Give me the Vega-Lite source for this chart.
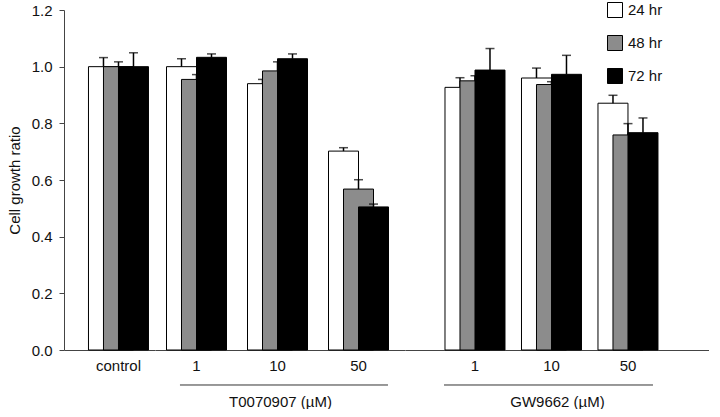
{
  "$schema": "https://vega.github.io/schema/vega-lite/v6.json",
  "padding": {"left": 7, "top": 2, "right": 0, "bottom": 0},
  "bounds": "flush",
  "spacing": 0,
  "config": {
    "view": {"stroke": null},
    "font": "Liberation Sans",
    "axis": {"domainColor": "#444", "tickColor": "#444", "labelColor": "#111", "titleColor": "#111", "labelFont": "Liberation Sans", "titleFont": "Liberation Sans", "labelFontSize": 15, "titleFontWeight": "normal", "grid": false},
    "legend": {"padding": 0, "labelFontSize": 15, "labelColor": "#111", "labelFont": "Liberation Sans", "symbolType": "square", "symbolSize": 225, "symbolStrokeColor": "black", "symbolStrokeWidth": 1, "rowPadding": 13, "labelOffset": 5, "title": null}
  },
  "data": {"values": [
    {"panel": "control", "dose": "control", "time": "24 hr", "value": 1.000, "upper": 1.032},
    {"panel": "control", "dose": "control", "time": "48 hr", "value": 1.000, "upper": 1.017},
    {"panel": "control", "dose": "control", "time": "72 hr", "value": 1.000, "upper": 1.049},
    {"panel": "T", "dose": "1", "time": "24 hr", "value": 1.000, "upper": 1.028},
    {"panel": "T", "dose": "1", "time": "48 hr", "value": 0.955, "upper": 0.972},
    {"panel": "T", "dose": "1", "time": "72 hr", "value": 1.033, "upper": 1.045},
    {"panel": "T", "dose": "10", "time": "24 hr", "value": 0.940, "upper": 0.955},
    {"panel": "T", "dose": "10", "time": "48 hr", "value": 0.985, "upper": 1.017},
    {"panel": "T", "dose": "10", "time": "72 hr", "value": 1.028, "upper": 1.045},
    {"panel": "T", "dose": "50", "time": "24 hr", "value": 0.702, "upper": 0.714},
    {"panel": "T", "dose": "50", "time": "48 hr", "value": 0.568, "upper": 0.601},
    {"panel": "T", "dose": "50", "time": "72 hr", "value": 0.505, "upper": 0.515},
    {"panel": "GW", "dose": "1", "time": "24 hr", "value": 0.927, "upper": 0.961},
    {"panel": "GW", "dose": "1", "time": "48 hr", "value": 0.950, "upper": 0.968},
    {"panel": "GW", "dose": "1", "time": "72 hr", "value": 0.988, "upper": 1.064},
    {"panel": "GW", "dose": "10", "time": "24 hr", "value": 0.960, "upper": 0.995},
    {"panel": "GW", "dose": "10", "time": "48 hr", "value": 0.937, "upper": 0.947},
    {"panel": "GW", "dose": "10", "time": "72 hr", "value": 0.973, "upper": 1.040},
    {"panel": "GW", "dose": "50", "time": "24 hr", "value": 0.871, "upper": 0.899},
    {"panel": "GW", "dose": "50", "time": "48 hr", "value": 0.759, "upper": 0.799},
    {"panel": "GW", "dose": "50", "time": "72 hr", "value": 0.767, "upper": 0.819}
  ]},
  "hconcat": [
    {
      "width": 91, "height": 340,
      "transform": [{"filter": "datum.panel == 'control'"}],
      "encoding": {
        "x": {"field": "dose", "type": "nominal", "sort": null, "title": null,
              "scale": {"domain": ["control"], "paddingInner": 0, "paddingOuter": 0.123, "align": 1},
              "axis": {"ticks": false, "tickSize": 0, "labelPadding": 8, "labelAngle": 0, "title": null}},
        "y": {"field": "value", "type": "quantitative", "title": "Cell growth ratio",
              "scale": {"domain": [0, 1.2], "nice": false, "zero": true},
              "axis": {"values": [0, 0.2, 0.4, 0.6, 0.8, 1.0, 1.2], "format": ".1f", "tickSize": 5, "labelPadding": 7, "titlePadding": 9, "titleFontSize": 15}}
      },
      "layer": [
        {"transform": [{"filter": "datum.time == '24 hr'"}], "layer": [
          {"mark": {"type": "bar", "width": 30, "xOffset": -15, "stroke": "black", "strokeWidth": 1},
           "encoding": {"color": {"field": "time", "type": "nominal", "scale": {"domain": ["24 hr", "48 hr", "72 hr"], "range": ["#ffffff", "#8c8c8c", "#000000"]}, "legend": {"orient": "none", "legendX": 543, "legendY": -8}}, "opacity": {"value": 1}}},
          {"mark": {"type": "rule", "xOffset": -15, "strokeWidth": 1.5, "color": "black"}, "encoding": {"y2": {"field": "upper"}}},
          {"mark": {"type": "tick", "xOffset": -15, "size": 9, "thickness": 1.5, "color": "black", "orient": "horizontal"}, "encoding": {"y": {"field": "upper", "type": "quantitative", "title": "Cell growth ratio"}}}
        ]},
        {"transform": [{"filter": "datum.time == '48 hr'"}], "layer": [
          {"mark": {"type": "bar", "width": 30, "xOffset": 0, "stroke": "black", "strokeWidth": 1},
           "encoding": {"color": {"field": "time", "type": "nominal", "scale": {"domain": ["24 hr", "48 hr", "72 hr"], "range": ["#ffffff", "#8c8c8c", "#000000"]}}}},
          {"mark": {"type": "rule", "xOffset": 0, "strokeWidth": 1.5, "color": "black"}, "encoding": {"y2": {"field": "upper"}}},
          {"mark": {"type": "tick", "xOffset": 0, "size": 9, "thickness": 1.5, "color": "black", "orient": "horizontal"}, "encoding": {"y": {"field": "upper", "type": "quantitative", "title": "Cell growth ratio"}}}
        ]},
        {"transform": [{"filter": "datum.time == '72 hr'"}], "layer": [
          {"mark": {"type": "bar", "width": 30, "xOffset": 15, "stroke": "black", "strokeWidth": 1},
           "encoding": {"color": {"field": "time", "type": "nominal", "scale": {"domain": ["24 hr", "48 hr", "72 hr"], "range": ["#ffffff", "#8c8c8c", "#000000"]}}}},
          {"mark": {"type": "rule", "xOffset": 15, "strokeWidth": 1.5, "color": "black"}, "encoding": {"y2": {"field": "upper"}}},
          {"mark": {"type": "tick", "xOffset": 15, "size": 9, "thickness": 1.5, "color": "black", "orient": "horizontal"}, "encoding": {"y": {"field": "upper", "type": "quantitative", "title": "Cell growth ratio"}}}
        ]}
      ]
    },
    {
      "width": 250, "height": 340,
      "layer": [
        {
          "transform": [{"filter": "datum.panel == 'T'"}],
          "encoding": {
            "x": {"field": "dose", "type": "nominal", "sort": null, "title": "T0070907 (µM)",
                  "scale": {"domain": ["1", "10", "50"], "paddingInner": 0, "paddingOuter": 0.0432, "align": 0.143},
                  "axis": {"ticks": false, "tickSize": 0, "labelPadding": 8, "labelAngle": 0, "titlePadding": 21, "titleFontSize": 15}},
            "y": {"field": "value", "type": "quantitative", "scale": {"domain": [0, 1.2], "nice": false}, "axis": null}
          },
          "layer": [
            {"transform": [{"filter": "datum.time == '24 hr'"}], "layer": [
              {"mark": {"type": "bar", "width": 30, "xOffset": -15, "stroke": "black", "strokeWidth": 1},
               "encoding": {"color": {"field": "time", "type": "nominal", "scale": {"domain": ["24 hr", "48 hr", "72 hr"], "range": ["#ffffff", "#8c8c8c", "#000000"]}}}},
              {"mark": {"type": "rule", "xOffset": -15, "strokeWidth": 1.5, "color": "black"}, "encoding": {"y2": {"field": "upper"}}},
              {"mark": {"type": "tick", "xOffset": -15, "size": 9, "thickness": 1.5, "color": "black", "orient": "horizontal"}, "encoding": {"y": {"field": "upper", "type": "quantitative", "axis": null}}}
            ]},
            {"transform": [{"filter": "datum.time == '48 hr'"}], "layer": [
              {"mark": {"type": "bar", "width": 30, "xOffset": 0, "stroke": "black", "strokeWidth": 1},
               "encoding": {"color": {"field": "time", "type": "nominal", "scale": {"domain": ["24 hr", "48 hr", "72 hr"], "range": ["#ffffff", "#8c8c8c", "#000000"]}}}},
              {"mark": {"type": "rule", "xOffset": 0, "strokeWidth": 1.5, "color": "black"}, "encoding": {"y2": {"field": "upper"}}},
              {"mark": {"type": "tick", "xOffset": 0, "size": 9, "thickness": 1.5, "color": "black", "orient": "horizontal"}, "encoding": {"y": {"field": "upper", "type": "quantitative", "axis": null}}}
            ]},
            {"transform": [{"filter": "datum.time == '72 hr'"}], "layer": [
              {"mark": {"type": "bar", "width": 30, "xOffset": 15, "stroke": "black", "strokeWidth": 1},
               "encoding": {"color": {"field": "time", "type": "nominal", "scale": {"domain": ["24 hr", "48 hr", "72 hr"], "range": ["#ffffff", "#8c8c8c", "#000000"]}}}},
              {"mark": {"type": "rule", "xOffset": 15, "strokeWidth": 1.5, "color": "black"}, "encoding": {"y2": {"field": "upper"}}},
              {"mark": {"type": "tick", "xOffset": 15, "size": 9, "thickness": 1.5, "color": "black", "orient": "horizontal"}, "encoding": {"y": {"field": "upper", "type": "quantitative", "axis": null}}}
            ]}
          ]
        },
        {
          "data": {"values": [{"from": "1", "to": "50"}]},
          "mark": {"type": "rule", "color": "#333", "strokeWidth": 1},
          "encoding": {
            "x": {"field": "from", "type": "nominal", "bandPosition": 0.296, "title": "T0070907 (µM)"},
            "x2": {"field": "to", "bandPosition": 0.864},
            "y": {"datum": -0.1235, "type": "quantitative"}
          }
        }
      ]
    },
    {
      "width": 304, "height": 340,
      "layer": [
        {
          "transform": [{"filter": "datum.panel == 'GW'"}],
          "encoding": {
            "x": {"field": "dose", "type": "nominal", "sort": null, "title": "GW9662 (µM)",
                  "scale": {"domain": ["1", "10", "50"], "paddingInner": 0, "paddingOuter": 0.487, "align": 0.426},
                  "axis": {"ticks": false, "tickSize": 0, "labelPadding": 8, "labelAngle": 0, "titlePadding": 21, "titleFontSize": 15}},
            "y": {"field": "value", "type": "quantitative", "scale": {"domain": [0, 1.2], "nice": false}, "axis": null}
          },
          "layer": [
            {"transform": [{"filter": "datum.time == '24 hr'"}], "layer": [
              {"mark": {"type": "bar", "width": 30, "xOffset": -15, "stroke": "black", "strokeWidth": 1},
               "encoding": {"color": {"field": "time", "type": "nominal", "scale": {"domain": ["24 hr", "48 hr", "72 hr"], "range": ["#ffffff", "#8c8c8c", "#000000"]}}}},
              {"mark": {"type": "rule", "xOffset": -15, "strokeWidth": 1.5, "color": "black"}, "encoding": {"y2": {"field": "upper"}}},
              {"mark": {"type": "tick", "xOffset": -15, "size": 9, "thickness": 1.5, "color": "black", "orient": "horizontal"}, "encoding": {"y": {"field": "upper", "type": "quantitative", "axis": null}}}
            ]},
            {"transform": [{"filter": "datum.time == '48 hr'"}], "layer": [
              {"mark": {"type": "bar", "width": 30, "xOffset": 0, "stroke": "black", "strokeWidth": 1},
               "encoding": {"color": {"field": "time", "type": "nominal", "scale": {"domain": ["24 hr", "48 hr", "72 hr"], "range": ["#ffffff", "#8c8c8c", "#000000"]}}}},
              {"mark": {"type": "rule", "xOffset": 0, "strokeWidth": 1.5, "color": "black"}, "encoding": {"y2": {"field": "upper"}}},
              {"mark": {"type": "tick", "xOffset": 0, "size": 9, "thickness": 1.5, "color": "black", "orient": "horizontal"}, "encoding": {"y": {"field": "upper", "type": "quantitative", "axis": null}}}
            ]},
            {"transform": [{"filter": "datum.time == '72 hr'"}], "layer": [
              {"mark": {"type": "bar", "width": 30, "xOffset": 15, "stroke": "black", "strokeWidth": 1},
               "encoding": {"color": {"field": "time", "type": "nominal", "scale": {"domain": ["24 hr", "48 hr", "72 hr"], "range": ["#ffffff", "#8c8c8c", "#000000"]}}}},
              {"mark": {"type": "rule", "xOffset": 15, "strokeWidth": 1.5, "color": "black"}, "encoding": {"y2": {"field": "upper"}}},
              {"mark": {"type": "tick", "xOffset": 15, "size": 9, "thickness": 1.5, "color": "black", "orient": "horizontal"}, "encoding": {"y": {"field": "upper", "type": "quantitative", "axis": null}}}
            ]}
          ]
        },
        {
          "data": {"values": [{"from": "1", "to": "50"}]},
          "mark": {"type": "rule", "color": "#333", "strokeWidth": 1},
          "encoding": {
            "x": {"field": "from", "type": "nominal", "bandPosition": 0.095, "title": "GW9662 (µM)"},
            "x2": {"field": "to", "bandPosition": 0.827},
            "y": {"datum": -0.1235, "type": "quantitative"}
          }
        }
      ]
    }
  ]
}
